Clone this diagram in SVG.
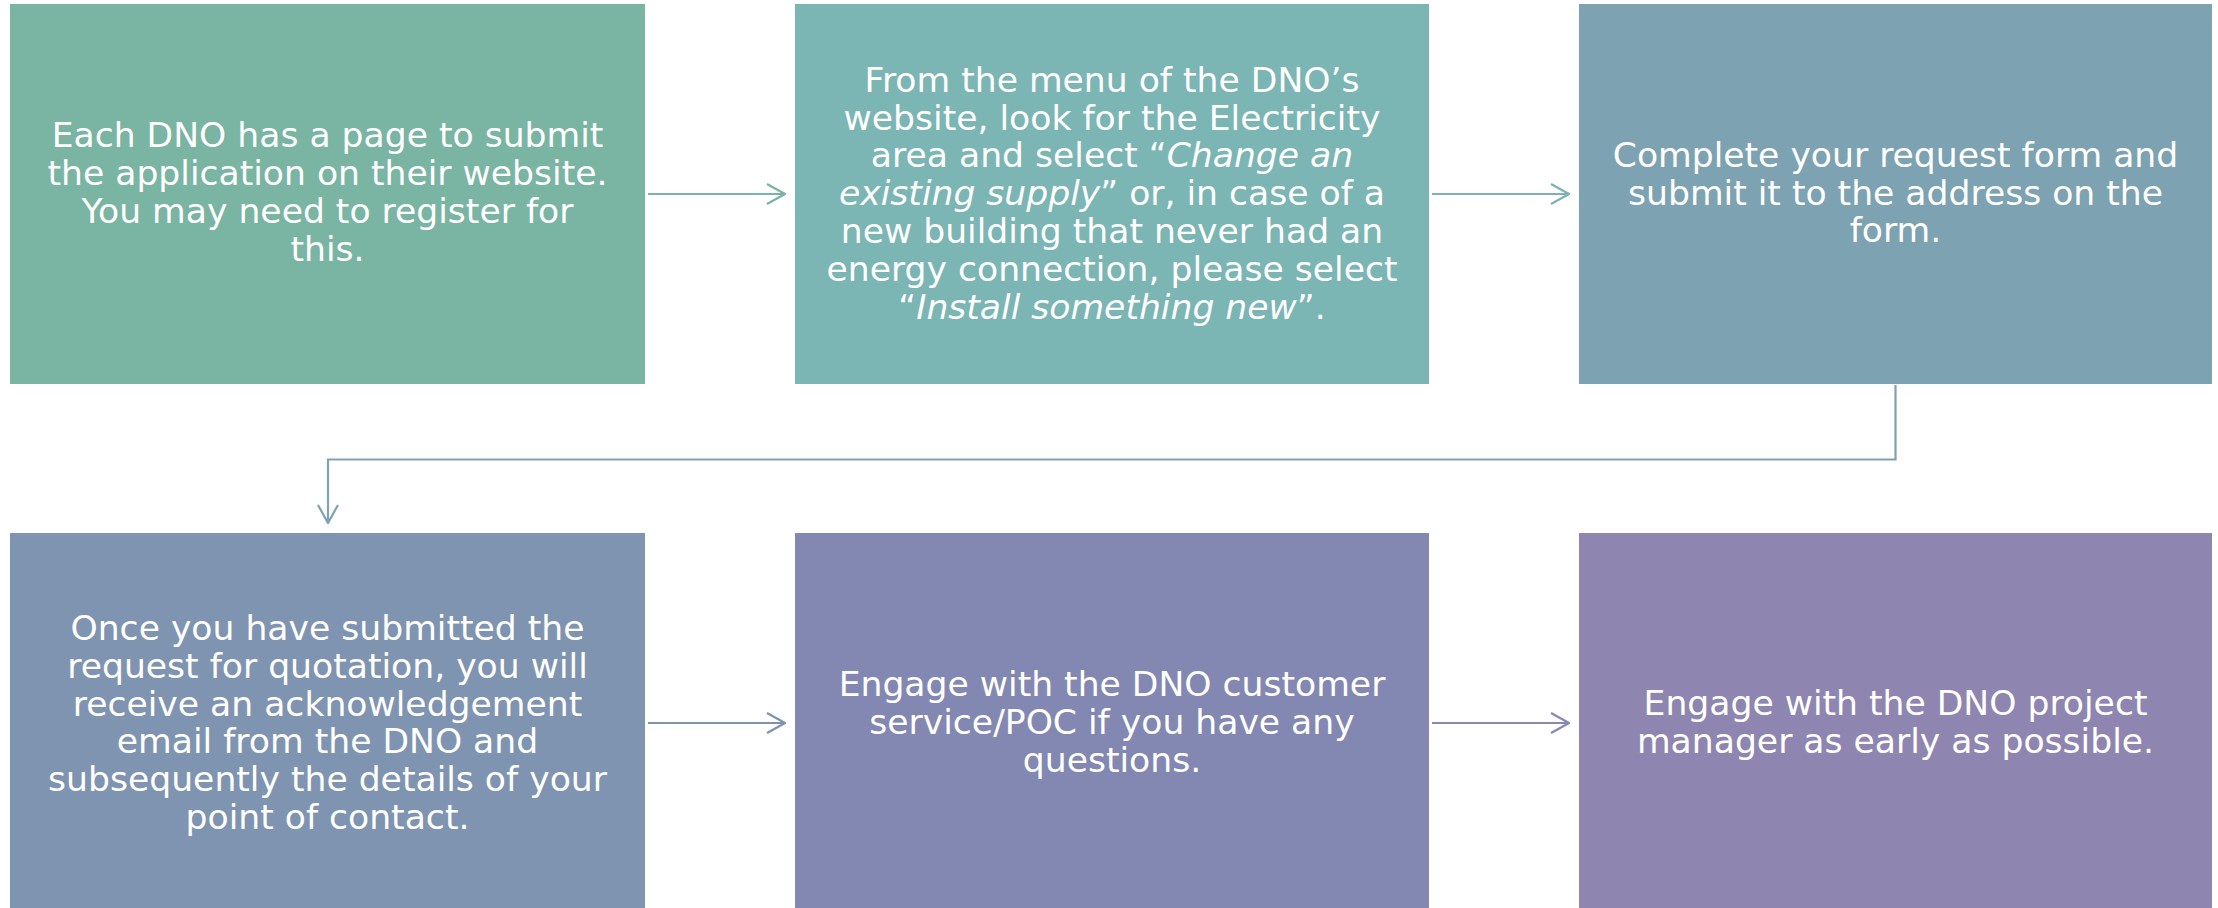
<svg xmlns="http://www.w3.org/2000/svg" width="2218" height="908" viewBox="0 0 2218 908">
<style>
.t{font-family:"DejaVu Sans","Verdana",sans-serif;font-size:34.6px;fill:#ffffff;text-anchor:middle}
.i{font-style:italic}
.c{fill:none;stroke-width:2.2}
</style>
<defs>
<marker id="ah" viewBox="0 0 20 22" refX="19" refY="11" markerWidth="20" markerHeight="22" markerUnits="userSpaceOnUse" orient="auto">
<path d="M1,1 L19,11 L1,21" fill="none" stroke="context-stroke" stroke-width="2.2"/>
</marker>
</defs>
<rect width="2218" height="908" fill="#ffffff"/>
<g id="connectors">
<path class="c" d="M648,194 H785" stroke="#7AB4A2" marker-end="url(#ah)"/>
<path class="c" d="M1432,194 H1569" stroke="#7CB2B6" marker-end="url(#ah)"/>
<path class="c" d="M1895.5,385 V459.5 H328 V523" stroke="#7FA1B4" marker-end="url(#ah)"/>
<path class="c" d="M648,723 H785" stroke="#7F93B0" marker-end="url(#ah)"/>
<path class="c" d="M1432,723 H1569" stroke="#8689B3" marker-end="url(#ah)"/>
</g>
<g id="node1">
<rect x="10" y="4" width="635" height="380" fill="#7AB4A2"/>
<text class="t" x="327.5" y="147.3">Each DNO has a page to submit</text>
<text class="t" x="327.5" y="185.1">the application on their website.</text>
<text class="t" x="327.5" y="222.9">You may need to register for</text>
<text class="t" x="327.5" y="260.7">this.</text>
</g>
<g id="node2">
<rect x="795" y="4" width="634" height="380" fill="#7BB5B4"/>
<text class="t" x="1112" y="91.7">From the menu of the DNO’s</text>
<text class="t" x="1112" y="129.5">website, look for the Electricity</text>
<text class="t" x="1112" y="167.3">area and select “<tspan class="i">Change an</tspan></text>
<text class="t" x="1112" y="205.1"><tspan class="i">existing supply</tspan>” or, in case of a</text>
<text class="t" x="1112" y="242.9">new building that never had an</text>
<text class="t" x="1112" y="280.7">energy connection, please select</text>
<text class="t" x="1112" y="318.5">“<tspan class="i">Install something new</tspan>”.</text>
</g>
<g id="node3">
<rect x="1579" y="4" width="633" height="380" fill="#7DA2B2"/>
<text class="t" x="1895.5" y="166.7">Complete your request form and</text>
<text class="t" x="1895.5" y="204.5">submit it to the address on the</text>
<text class="t" x="1895.5" y="242.3">form.</text>
</g>
<g id="node4">
<rect x="10" y="533" width="635" height="375" fill="#7F94B0"/>
<text class="t" x="327.5" y="640">Once you have submitted the</text>
<text class="t" x="327.5" y="677.8">request for quotation, you will</text>
<text class="t" x="327.5" y="715.6">receive an acknowledgement</text>
<text class="t" x="327.5" y="753.4">email from the DNO and</text>
<text class="t" x="327.5" y="791.2">subsequently the details of your</text>
<text class="t" x="327.5" y="829">point of contact.</text>
</g>
<g id="node5">
<rect x="795" y="533" width="634" height="375" fill="#8388B2"/>
<text class="t" x="1112" y="696">Engage with the DNO customer</text>
<text class="t" x="1112" y="733.8">service/POC if you have any</text>
<text class="t" x="1112" y="771.6">questions.</text>
</g>
<g id="node6">
<rect x="1579" y="533" width="633" height="375" fill="#8E86B0"/>
<text class="t" x="1895.5" y="715">Engage with the DNO project</text>
<text class="t" x="1895.5" y="752.8">manager as early as possible.</text>
</g>
</svg>
